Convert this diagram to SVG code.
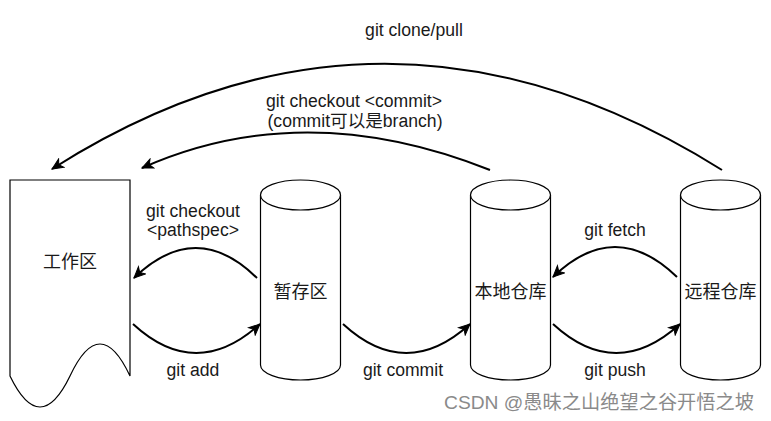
<svg xmlns="http://www.w3.org/2000/svg" width="771" height="421" viewBox="0 0 771 421">
  <style>
    .shape { fill: #ffffff; stroke: #000000; stroke-width: 1.2; }
    .edge { fill: none; stroke: #000000; stroke-width: 2; }
    .lbl { font-family: "Liberation Sans", Arial, "Noto Sans CJK SC", sans-serif; font-size: 17.6px; fill: #1a1a1a; text-anchor: middle; }
    .node { font-family: "Noto Sans CJK SC", "Liberation Sans", sans-serif; font-size: 18px; fill: #1a1a1a; text-anchor: middle; }
    .wm { font-family: "Liberation Sans", Arial, "Noto Sans CJK SC", sans-serif; font-size: 19px; fill: #8a8a8a; }
  </style>
  <defs>
    <marker id="arr" markerUnits="userSpaceOnUse" markerWidth="14" markerHeight="12" refX="12" refY="6" orient="auto">
      <path d="M1,1 L12,6 L1,11 L4,6 Z" fill="#000000" stroke="#000000" stroke-width="1" stroke-linejoin="miter"/>
    </marker>
  </defs>
  <rect x="0" y="0" width="771" height="421" fill="#ffffff"/>

  <g id="workspace">
    <path class="shape" d="M10,180 H130 V376 Q100,312 70,376 Q40,438 10,376 Z"/>
    <text class="node" x="70" y="268">工作区</text>
  </g>

  <g id="staging">
    <path class="shape" d="M260.5,195 A40,15 0 0 1 340.5,195 V365 A40,15 0 0 1 260.5,365 Z"/>
    <path class="shape" fill="none" d="M260.5,195 A40,15 0 0 0 340.5,195"/>
    <text class="node" x="300.5" y="298">暂存区</text>
  </g>

  <g id="local-repo">
    <path class="shape" d="M470.5,195 A40,15 0 0 1 550.5,195 V365 A40,15 0 0 1 470.5,365 Z"/>
    <path class="shape" fill="none" d="M470.5,195 A40,15 0 0 0 550.5,195"/>
    <text class="node" x="510.5" y="298">本地仓库</text>
  </g>

  <g id="remote-repo">
    <path class="shape" d="M680.5,195 A40,15 0 0 1 760.5,195 V365 A40,15 0 0 1 680.5,365 Z"/>
    <path class="shape" fill="none" d="M680.5,195 A40,15 0 0 0 760.5,195"/>
    <text class="node" x="720.5" y="298">远程仓库</text>
  </g>

  <g id="connectors">
    <path class="edge" marker-end="url(#arr)" d="M722,170 Q384,-42 52,169"/>
    <path class="edge" marker-end="url(#arr)" d="M490,170 Q304,96 142,168"/>
    <path class="edge" marker-end="url(#arr)" d="M257,278 Q196,218 134,278"/>
    <path class="edge" marker-end="url(#arr)" d="M133,324 Q196,382 260,324"/>
    <path class="edge" marker-end="url(#arr)" d="M343,324 Q406,382 470,324"/>
    <path class="edge" marker-end="url(#arr)" d="M677,277 Q615,217 553,277"/>
    <path class="edge" marker-end="url(#arr)" d="M553,324 Q616,382 680,324"/>

    <text class="lbl" x="414" y="36">git clone/pull</text>
    <text class="lbl" x="354" y="107">git checkout &lt;commit&gt;</text>
    <text class="lbl" x="355" y="127">(commit可以是branch)</text>
    <text class="lbl" x="193" y="217">git checkout</text>
    <text class="lbl" x="193" y="236">&lt;pathspec&gt;</text>
    <text class="lbl" x="193" y="376">git add</text>
    <text class="lbl" x="403" y="376">git commit</text>
    <text class="lbl" x="615" y="236">git fetch</text>
    <text class="lbl" x="615" y="376">git push</text>
  </g>

  <text class="wm" x="444" y="409" textLength="310" lengthAdjust="spacingAndGlyphs">CSDN @愚昧之山绝望之谷开悟之坡</text>
</svg>
